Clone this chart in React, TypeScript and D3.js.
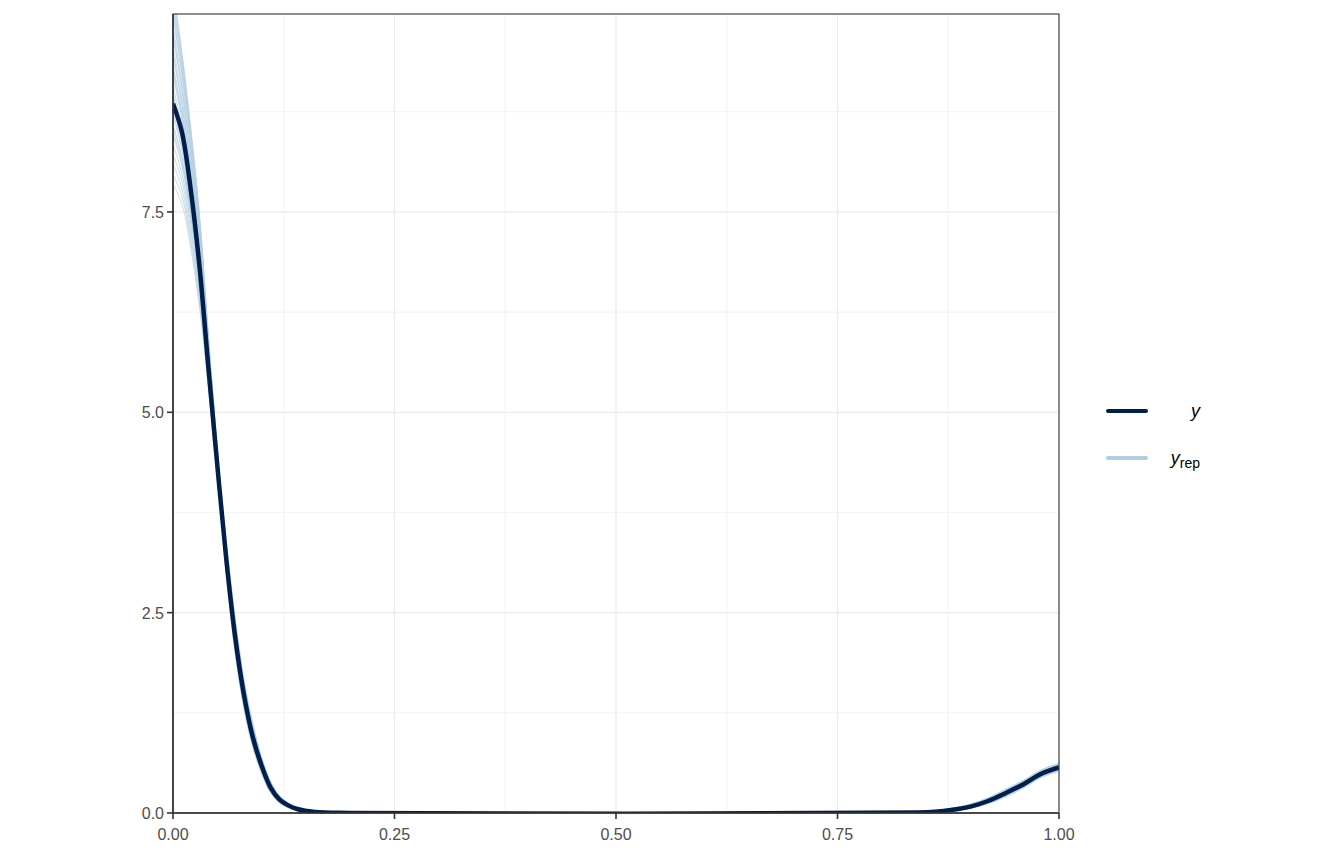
import { useEffect, useRef } from 'react';
import * as d3 from 'd3';

// shared x grid for every density curve
const xGrid = [0, 0.01, 0.02, 0.03, 0.04, 0.05, 0.06, 0.07, 0.08, 0.09, 0.10, 0.11, 0.12, 0.13, 0.14, 0.16, 0.2, 0.84, 0.86, 0.88, 0.9, 0.92, 0.94, 0.96, 0.98, 1.0];

// observed density (y)
const yObs = [8.85, 8.5, 7.78, 6.81, 5.55, 4.34, 3.18, 2.21, 1.48, 0.95, 0.59, 0.32, 0.17, 0.095, 0.05, 0.013, 0, 0.005, 0.015, 0.04, 0.08, 0.15, 0.25, 0.36, 0.49, 0.57];

// replicated densities (yrep)
const yRep = [
  [10.30, 9.50, 8.55, 7.45, 5.95, 4.55, 3.24, 2.27, 1.53, 1.00, 0.62, 0.34, 0.182, 0.104, 0.057, 0.015, 0.002, 0.004, 0.012, 0.034, 0.072, 0.138, 0.23, 0.34, 0.47, 0.55],
  [10.18, 9.41, 8.48, 7.39, 5.92, 4.53, 3.08, 2.09, 1.38, 0.88, 0.53, 0.28, 0.144, 0.078, 0.039, 0.008, 0.001, 0.010, 0.023, 0.054, 0.099, 0.175, 0.28, 0.39, 0.52, 0.60],
  [10.06, 9.31, 8.40, 7.34, 5.89, 4.51, 3.36, 2.41, 1.64, 1.09, 0.68, 0.39, 0.211, 0.124, 0.071, 0.020, 0.003, 0.006, 0.017, 0.042, 0.083, 0.153, 0.25, 0.36, 0.49, 0.57],
  [9.93, 9.22, 8.33, 7.28, 5.85, 4.49, 3.16, 2.18, 1.45, 0.94, 0.57, 0.31, 0.163, 0.091, 0.048, 0.012, 0.001, 0.001, 0.007, 0.026, 0.061, 0.123, 0.21, 0.32, 0.45, 0.53],
  [9.81, 9.12, 8.25, 7.22, 5.82, 4.47, 3.28, 2.32, 1.57, 1.03, 0.64, 0.36, 0.192, 0.111, 0.062, 0.017, 0.002, 0.011, 0.026, 0.058, 0.105, 0.183, 0.29, 0.40, 0.53, 0.61],
  [9.69, 9.03, 8.18, 7.16, 5.79, 4.45, 3.04, 2.05, 1.34, 0.85, 0.51, 0.27, 0.135, 0.072, 0.035, 0.007, 0, 0.007, 0.019, 0.046, 0.088, 0.160, 0.26, 0.37, 0.50, 0.58],
  [9.57, 8.93, 8.10, 7.11, 5.76, 4.43, 3.20, 2.23, 1.49, 0.97, 0.60, 0.33, 0.173, 0.098, 0.053, 0.014, 0.002, 0.005, 0.014, 0.038, 0.077, 0.145, 0.24, 0.35, 0.48, 0.56],
  [9.44, 8.84, 8.03, 7.05, 5.72, 4.41, 3.40, 2.45, 1.68, 1.12, 0.70, 0.40, 0.220, 0.130, 0.075, 0.022, 0.003, 0.002, 0.010, 0.030, 0.066, 0.130, 0.22, 0.33, 0.46, 0.54],
  [9.32, 8.74, 7.95, 6.99, 5.69, 4.39, 3.12, 2.14, 1.41, 0.91, 0.55, 0.30, 0.154, 0.085, 0.044, 0.010, 0.001, 0.008, 0.021, 0.050, 0.094, 0.168, 0.27, 0.38, 0.51, 0.59],
  [9.20, 8.65, 7.88, 6.93, 5.66, 4.37, 3.32, 2.36, 1.60, 1.06, 0.66, 0.37, 0.201, 0.117, 0.066, 0.019, 0.002, 0.012, 0.028, 0.062, 0.11, 0.19, 0.30, 0.41, 0.54, 0.62],
  [9.08, 8.55, 7.80, 6.88, 5.63, 4.35, 3.00, 2.00, 1.30, 0.82, 0.49, 0.25, 0.125, 0.065, 0.030, 0.005, 0, 0.006, 0.017, 0.042, 0.083, 0.153, 0.25, 0.36, 0.49, 0.57],
  [8.95, 8.46, 7.73, 6.82, 5.59, 4.33, 3.24, 2.27, 1.53, 1.00, 0.62, 0.34, 0.182, 0.104, 0.057, 0.015, 0.002, 0, 0.005, 0.022, 0.055, 0.115, 0.20, 0.31, 0.44, 0.52],
  [8.83, 8.36, 7.65, 6.76, 5.56, 4.31, 3.14, 2.16, 1.43, 0.93, 0.56, 0.30, 0.158, 0.088, 0.046, 0.011, 0.001, 0.010, 0.025, 0.056, 0.102, 0.179, 0.285, 0.395, 0.525, 0.605],
  [8.71, 8.27, 7.58, 6.70, 5.53, 4.29, 3.38, 2.43, 1.66, 1.11, 0.69, 0.39, 0.215, 0.127, 0.073, 0.021, 0.003, 0.004, 0.013, 0.036, 0.074, 0.141, 0.235, 0.345, 0.475, 0.555],
  [8.59, 8.17, 7.50, 6.65, 5.50, 4.27, 3.06, 2.07, 1.36, 0.87, 0.52, 0.27, 0.139, 0.075, 0.037, 0.008, 0, 0.008, 0.020, 0.048, 0.091, 0.164, 0.265, 0.375, 0.505, 0.585],
  [8.46, 8.08, 7.43, 6.59, 5.46, 4.25, 3.30, 2.34, 1.59, 1.05, 0.65, 0.36, 0.196, 0.114, 0.064, 0.018, 0.002, 0.002, 0.008, 0.028, 0.063, 0.126, 0.215, 0.325, 0.455, 0.535],
  [8.34, 7.98, 7.35, 6.53, 5.43, 4.23, 3.18, 2.20, 1.47, 0.96, 0.58, 0.32, 0.168, 0.094, 0.050, 0.013, 0.001, 0.007, 0.018, 0.044, 0.085, 0.156, 0.255, 0.365, 0.495, 0.575],
  [8.22, 7.89, 7.28, 6.47, 5.40, 4.21, 3.02, 2.02, 1.32, 0.84, 0.50, 0.26, 0.130, 0.068, 0.032, 0.006, 0, 0.011, 0.027, 0.060, 0.107, 0.186, 0.295, 0.405, 0.535, 0.615],
  [8.10, 7.79, 7.20, 6.42, 5.37, 4.19, 3.34, 2.38, 1.62, 1.08, 0.67, 0.38, 0.206, 0.120, 0.068, 0.019, 0.003, 0.003, 0.011, 0.032, 0.069, 0.134, 0.225, 0.335, 0.465, 0.545],
  [7.97, 7.70, 7.13, 6.36, 5.33, 4.17, 3.10, 2.11, 1.40, 0.90, 0.54, 0.29, 0.149, 0.081, 0.041, 0.009, 0.001, 0.009, 0.022, 0.052, 0.096, 0.171, 0.275, 0.385, 0.515, 0.595],
  [7.85, 7.60, 7.05, 6.30, 5.30, 4.15, 3.22, 2.25, 1.51, 0.99, 0.61, 0.33, 0.177, 0.101, 0.055, 0.014, 0.002, 0.005, 0.015, 0.040, 0.080, 0.149, 0.245, 0.355, 0.485, 0.565],
  [10.10, 9.35, 8.43, 7.36, 5.90, 4.52, 3.26, 2.29, 1.55, 1.02, 0.63, 0.35, 0.187, 0.107, 0.059, 0.016, 0.002, 0.007, 0.019, 0.046, 0.088, 0.160, 0.26, 0.37, 0.50, 0.58],
  [9.32, 8.74, 7.95, 6.99, 5.69, 4.39, 3.20, 2.23, 1.49, 0.97, 0.60, 0.33, 0.173, 0.098, 0.053, 0.014, 0.002, 0.006, 0.017, 0.042, 0.083, 0.153, 0.25, 0.36, 0.49, 0.57],
  [8.59, 8.17, 7.50, 6.65, 5.50, 4.27, 3.20, 2.23, 1.49, 0.97, 0.60, 0.33, 0.173, 0.098, 0.053, 0.014, 0.002, 0.006, 0.017, 0.042, 0.083, 0.153, 0.25, 0.36, 0.49, 0.57],
  [10.25, 9.46, 8.52, 7.43, 5.94, 4.54, 3.12, 2.14, 1.41, 0.91, 0.55, 0.30, 0.154, 0.085, 0.044, 0.010, 0.001, 0.007, 0.019, 0.046, 0.088, 0.160, 0.26, 0.37, 0.50, 0.58],
  [9.98, 9.25, 8.36, 7.30, 5.87, 4.50, 3.24, 2.27, 1.53, 1.00, 0.62, 0.34, 0.182, 0.104, 0.057, 0.015, 0.002, 0.004, 0.012, 0.034, 0.072, 0.138, 0.23, 0.34, 0.47, 0.55],
  [9.74, 9.06, 8.21, 7.19, 5.80, 4.46, 3.16, 2.18, 1.45, 0.94, 0.57, 0.31, 0.163, 0.091, 0.048, 0.012, 0.001, 0.010, 0.023, 0.054, 0.099, 0.175, 0.28, 0.39, 0.52, 0.60],
  [9.49, 8.87, 8.06, 7.07, 5.74, 4.42, 3.28, 2.32, 1.57, 1.03, 0.64, 0.36, 0.192, 0.111, 0.062, 0.017, 0.002, 0.002, 0.010, 0.030, 0.066, 0.130, 0.22, 0.33, 0.46, 0.54],
  [9.25, 8.68, 7.91, 6.96, 5.67, 4.38, 3.08, 2.09, 1.38, 0.88, 0.53, 0.28, 0.144, 0.078, 0.039, 0.008, 0.001, 0.005, 0.015, 0.040, 0.080, 0.149, 0.245, 0.355, 0.485, 0.565],
  [9.00, 8.49, 7.76, 6.84, 5.61, 4.34, 3.22, 2.25, 1.51, 0.99, 0.61, 0.33, 0.177, 0.101, 0.055, 0.014, 0.002, 0.008, 0.020, 0.048, 0.091, 0.164, 0.265, 0.375, 0.505, 0.585],
  [8.76, 8.30, 7.61, 6.73, 5.54, 4.30, 3.32, 2.36, 1.60, 1.06, 0.66, 0.37, 0.201, 0.117, 0.066, 0.019, 0.002, 0.001, 0.007, 0.026, 0.061, 0.123, 0.21, 0.32, 0.45, 0.53],
  [8.51, 8.11, 7.46, 6.61, 5.48, 4.26, 3.14, 2.16, 1.43, 0.93, 0.56, 0.30, 0.158, 0.088, 0.046, 0.011, 0.001, 0.011, 0.026, 0.058, 0.105, 0.183, 0.29, 0.40, 0.53, 0.61],
];

const xTicks = [0, 0.25, 0.5, 0.75, 1];
const xMinor = [0.125, 0.375, 0.625, 0.875];
const yTicks = [0, 2.5, 5, 7.5];
const yMinor = [1.25, 3.75, 6.25, 8.75];

export default function App() {
  const svgRef = useRef<SVGSVGElement>(null);

  useEffect(() => {
    const svg = d3.select(svgRef.current);
    svg.selectAll('*').remove();

    const W = 1344, H = 864;
    const L = 173, R = 1059, T = 14, B = 813;
    const font = "'Liberation Sans', Arial, sans-serif";

    const x = d3.scaleLinear().domain([0, 1]).range([L, R]);
    const y = d3.scaleLinear().domain([0, 9.97]).range([B, T]);

    svg.attr('width', W).attr('height', H).attr('viewBox', `0 0 ${W} ${H}`);
    svg.append('rect').attr('width', W).attr('height', H).attr('fill', '#fff');

    svg.append('clipPath').attr('id', 'panel-clip')
      .append('rect').attr('x', L).attr('y', T).attr('width', R - L).attr('height', B - T);

    // grid
    const grid = svg.append('g');
    xMinor.forEach(v => grid.append('line').attr('x1', x(v)).attr('x2', x(v)).attr('y1', T).attr('y2', B)
      .attr('stroke', '#ebebeb').attr('stroke-width', 0.6));
    yMinor.forEach(v => grid.append('line').attr('x1', L).attr('x2', R).attr('y1', y(v)).attr('y2', y(v))
      .attr('stroke', '#ebebeb').attr('stroke-width', 0.6));
    xTicks.forEach(v => grid.append('line').attr('x1', x(v)).attr('x2', x(v)).attr('y1', T).attr('y2', B)
      .attr('stroke', '#ebebeb').attr('stroke-width', 1.2));
    yTicks.forEach(v => grid.append('line').attr('x1', L).attr('x2', R).attr('y1', y(v)).attr('y2', y(v))
      .attr('stroke', '#ebebeb').attr('stroke-width', 1.2));

    const line = d3.line<number>()
      .x((_, i) => x(xGrid[i]))
      .y(d => y(d))
      .curve(d3.curveCatmullRom.alpha(0.5));

    const plot = svg.append('g').attr('clip-path', 'url(#panel-clip)');
    yRep.forEach(r => {
      plot.append('path').attr('d', line(r)).attr('fill', 'none')
        .attr('stroke', '#b3cde0').attr('stroke-width', 0.8).attr('opacity', 0.9);
    });
    plot.append('path').attr('d', line(yObs)).attr('fill', 'none')
      .attr('stroke', '#011f4b').attr('stroke-width', 4.5)
      .attr('stroke-linejoin', 'round');

    // panel border
    svg.append('rect').attr('x', L).attr('y', T).attr('width', R - L).attr('height', B - T)
      .attr('fill', 'none').attr('stroke', '#333').attr('stroke-width', 1.1);
    svg.append('line').attr('x1', L).attr('x2', R).attr('y1', B).attr('y2', B)
      .attr('stroke', '#333').attr('stroke-width', 1.6);
    svg.append('line').attr('x1', L).attr('x2', L).attr('y1', T).attr('y2', B)
      .attr('stroke', '#333').attr('stroke-width', 1.6);

    // ticks + labels
    xTicks.forEach(v => {
      svg.append('line').attr('x1', x(v)).attr('x2', x(v)).attr('y1', B).attr('y2', B + 6)
        .attr('stroke', '#333').attr('stroke-width', 1.6);
      svg.append('text').attr('x', x(v)).attr('y', B + 27).attr('text-anchor', 'middle')
        .attr('font-family', font).attr('font-size', 16).attr('fill', '#4d4d4d')
        .text(v.toFixed(2));
    });
    yTicks.forEach(v => {
      svg.append('line').attr('x1', L - 6).attr('x2', L).attr('y1', y(v)).attr('y2', y(v))
        .attr('stroke', '#333').attr('stroke-width', 1.6);
      svg.append('text').attr('x', L - 9).attr('y', y(v) + 6).attr('text-anchor', 'end')
        .attr('font-family', font).attr('font-size', 16).attr('fill', '#4d4d4d')
        .text(v.toFixed(1));
    });

    // legend
    const lg = svg.append('g');
    lg.append('line').attr('x1', 1108).attr('x2', 1146).attr('y1', 411).attr('y2', 411)
      .attr('stroke', '#011f4b').attr('stroke-width', 4).attr('stroke-linecap', 'round');
    lg.append('line').attr('x1', 1108).attr('x2', 1146).attr('y1', 458).attr('y2', 458)
      .attr('stroke', '#b3cde0').attr('stroke-width', 4).attr('stroke-linecap', 'round');
    lg.append('text').attr('x', 1200).attr('y', 417).attr('text-anchor', 'end')
      .attr('font-family', font).attr('font-size', 18).attr('font-style', 'italic').attr('fill', '#000')
      .text('y');
    const rep = lg.append('text').attr('x', 1200).attr('y', 464).attr('text-anchor', 'end')
      .attr('font-family', font).attr('fill', '#000');
    rep.append('tspan').attr('font-size', 18).attr('font-style', 'italic').text('y');
    rep.append('tspan').attr('font-size', 14).attr('dy', 4).text('rep');
  }, []);

  return (
    <svg ref={svgRef} style={{ position: 'absolute', left: 0, top: 0, display: 'block' }} />
  );
}
